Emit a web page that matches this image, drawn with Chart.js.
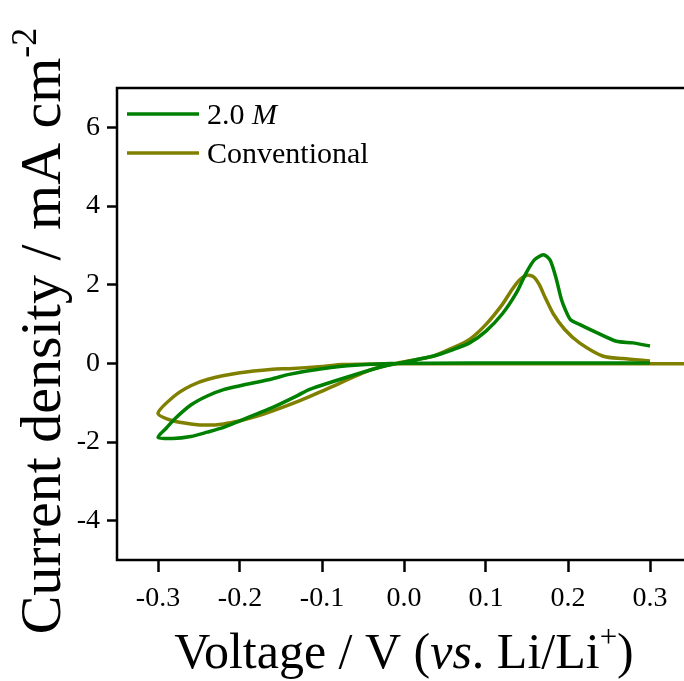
<!DOCTYPE html>
<html>
<head>
<meta charset="utf-8">
<script src="https://cdn.jsdelivr.net/npm/chart.js@4"></script>
<style>
  html, body { margin: 0; padding: 0; overflow: hidden; background: #fff; }
  canvas { display: block; }
</style>
</head>
<body>
<canvas id="myChart" width="700" height="681"></canvas>
<script>
// 2.0 M electrolyte, V vs Li/Li+ and mA cm-2
const voltage2M = [0.30, 0.20, 0.10, 0.00, -0.06, -0.10, -0.14, -0.16, -0.20, -0.22, -0.24, -0.26, -0.28, -0.29, -0.30,
	-0.282, -0.26, -0.24, -0.22, -0.20, -0.18, -0.16, -0.13, -0.115, -0.06, -0.02, 0.00, 0.035, 0.06, 0.08, 0.10, 0.12,
	0.137, 0.149, 0.159, 0.170, 0.178, 0.185, 0.192, 0.197, 0.203, 0.214, 0.235, 0.259, 0.279, 0.30];
const current2M = [0.01, 0.01, 0.01, 0.00, -0.05, -0.14, -0.28, -0.39, -0.57, -0.67, -0.83, -1.06, -1.42, -1.65, -1.88,
	-1.91, -1.86, -1.75, -1.63, -1.46, -1.29, -1.12, -0.82, -0.66, -0.29, -0.05, 0.03, 0.18, 0.35, 0.52, 0.82, 1.26,
	1.79, 2.30, 2.63, 2.76, 2.63, 2.20, 1.62, 1.35, 1.11, 0.99, 0.78, 0.56, 0.52, 0.44];

// conventional electrolyte
const voltageConv = [0.35, 0.20, 0.00, -0.075, -0.10, -0.14, -0.16, -0.20, -0.24, -0.26, -0.28, -0.30,
	-0.282, -0.26, -0.24, -0.22, -0.20, -0.18, -0.16, -0.127, -0.095, -0.04, -0.005, 0.035, 0.06, 0.08, 0.10, 0.12,
	0.13, 0.14, 0.15, 0.158, 0.165, 0.172, 0.182, 0.196, 0.214, 0.243, 0.267, 0.30];
const currentConv = [-0.01, -0.01, -0.01, -0.03, -0.08, -0.135, -0.15, -0.24, -0.41, -0.57, -0.83, -1.27,
	-1.46, -1.54, -1.57, -1.54, -1.46, -1.35, -1.21, -0.95, -0.66, -0.16, 0.02, 0.18, 0.40, 0.61, 0.99, 1.50,
	1.82, 2.10, 2.24, 2.20, 2.00, 1.68, 1.26, 0.86, 0.52, 0.18, 0.12, 0.06];

const xTickValues = [-0.3, -0.2, -0.1, 0.0, 0.1, 0.2, 0.3];
const yTickValues = [-4, -2, 0, 2, 4, 6];

const GREEN = "#008000";
const OLIVE = "#808000";
const SERIF = "'Liberation Serif', 'Times New Roman', serif";

function toPoints(xs, ys) {
	return xs.map((x, i) => ({ x: x, y: ys[i] }));
}

// draws text pieces one after another: [text, italic, superscript]
function drawRich(ctx, parts, size) {
	let x = 0;
	parts.forEach(p => {
		const fs = p[2] ? size * 0.62 : size;
		ctx.font = (p[1] ? "italic " : "") + fs + "px " + SERIF;
		ctx.fillText(p[0], x, p[2] ? -size * 0.42 : 0);
		x += ctx.measureText(p[0]).width;
	});
	return x;
}
function richWidth(ctx, parts, size) {
	let w = 0;
	parts.forEach(p => {
		const fs = p[2] ? size * 0.62 : size;
		ctx.font = (p[1] ? "italic " : "") + fs + "px " + SERIF;
		w += ctx.measureText(p[0]).width;
	});
	return w;
}

const framePlugin = {
	id: "frame",
	afterDraw(chart) {
		const ctx = chart.ctx;
		const a = chart.chartArea;
		ctx.save();
		ctx.strokeStyle = "#000";
		ctx.lineWidth = 2.5;
		ctx.strokeRect(a.left, a.top, a.right - a.left, a.bottom - a.top);

		ctx.fillStyle = "#000";
		ctx.textBaseline = "alphabetic";
		ctx.textAlign = "left";

		// x title
		const xParts = [["Voltage / V (", false, false], ["vs", true, false], [". Li/Li", false, false], ["+", false, true], [")", false, false]];
		const xs = 50;
		const xw = richWidth(ctx, xParts, xs);
		ctx.save();
		ctx.translate(404 - xw / 2, 668);
		drawRich(ctx, xParts, xs);
		ctx.restore();

		// y title
		const yParts = [["Current density / mA cm", false, false], ["-2", false, true]];
		const ys = 58;
		const yw = richWidth(ctx, yParts, ys);
		ctx.save();
		ctx.translate(60, 331 + yw / 2);
		ctx.rotate(-Math.PI / 2);
		drawRich(ctx, yParts, ys);
		ctx.restore();

		// legend
		const legend = [
			{ color: GREEN, parts: [["2.0 ", false, false], ["M", true, false]], y: 114 },
			{ color: OLIVE, parts: [["Conventional", false, false]], y: 153 }
		];
		legend.forEach(item => {
			ctx.strokeStyle = item.color;
			ctx.lineWidth = 3.5;
			ctx.beginPath();
			ctx.moveTo(127, item.y);
			ctx.lineTo(199, item.y);
			ctx.stroke();
			ctx.save();
			ctx.translate(207, item.y + 10);
			drawRich(ctx, item.parts, 30);
			ctx.restore();
		});
		ctx.restore();
	}
};

new Chart(document.getElementById("myChart"), {
	type: "scatter",
	data: {
		datasets: [
			{
				label: "2.0 M",
				data: toPoints(voltage2M, current2M),
				showLine: true,
				borderColor: GREEN,
				borderWidth: 3.5,
				pointRadius: 0,
				tension: 0.25
			},
			{
				label: "Conventional",
				data: toPoints(voltageConv, currentConv),
				showLine: true,
				borderColor: OLIVE,
				borderWidth: 3.5,
				pointRadius: 0,
				tension: 0.25
			}
		]
	},
	options: {
		responsive: false,
		animation: false,
		devicePixelRatio: 1,
		layout: { padding: { top: 88, right: 9, left: 0, bottom: 0 } },
		plugins: {
			legend: { display: false },
			tooltip: { enabled: false }
		},
		scales: {
			x: {
				type: "linear",
				min: -0.35,
				max: 0.35,
				afterBuildTicks: scale => { scale.ticks = xTickValues.map(v => ({ value: v })); },
				afterFit: scale => { scale.height = 121; },
				grid: { display: true, drawOnChartArea: false, drawTicks: true, tickLength: 12, tickWidth: 2.5, tickColor: "#000" },
				border: { display: false },
				ticks: {
					color: "#000",
					padding: 10,
					maxRotation: 0,
					font: { family: SERIF, size: 28 },
					callback: v => v.toFixed(1)
				}
			},
			y: {
				type: "linear",
				min: -5,
				max: 7,
				afterBuildTicks: scale => { scale.ticks = yTickValues.map(v => ({ value: v })); },
				afterFit: scale => { scale.width = 117; },
				grid: { display: true, drawOnChartArea: false, drawTicks: true, tickLength: 10, tickWidth: 2.5, tickColor: "#000" },
				border: { display: false },
				ticks: {
					color: "#000",
					padding: 7,
					font: { family: SERIF, size: 28 },
					callback: v => String(v)
				}
			}
		}
	},
	plugins: [framePlugin]
});
</script>
</body>
</html>
